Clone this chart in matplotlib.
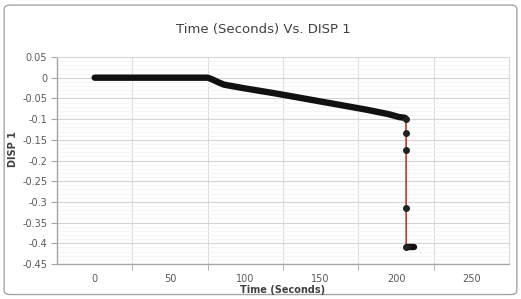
import numpy as np
import matplotlib
matplotlib.use("Agg")
import matplotlib.pyplot as plt
from matplotlib.patches import FancyBboxPatch

# readings taken off the chart (seconds, displacement)
time_flat = [0, 10, 20, 30, 40, 50, 60, 70, 75]
disp_flat = [0, 0, 0, 0, 0, 0, 0, 0, 0]

time_slope = [75, 78, 82, 86, 100, 120, 140, 160, 180, 195, 202, 206]
disp_slope = [0, -0.004, -0.011, -0.017, -0.026, -0.038, -0.051, -0.064, -0.077, -0.088, -0.095, -0.097]

time_drop = [206.5, 206.7, 206.7, 206.7, 206.8]
disp_drop = [-0.099, -0.133, -0.174, -0.314, -0.408]

time_end = [207, 208, 209, 210, 211, 212]
disp_end = [-0.408, -0.408, -0.408, -0.408, -0.408, -0.408]

label_ticks = [0, 50, 100, 150, 200, 250]
grid_ticks = [25, 75, 125, 175, 225]
y_ticks = [0.05, 0, -0.05, -0.1, -0.15, -0.2, -0.25, -0.3, -0.35, -0.4, -0.45]

fig = plt.figure(figsize=(5.21, 2.99), dpi=100)
fig.patch.set_facecolor("white")

# outer rounded frame
frame = FancyBboxPatch((0.008, 0.015), 0.984, 0.968, boxstyle="round,pad=0,rounding_size=0.012",
                       transform=fig.transFigure, facecolor="white", edgecolor="#a6a6a6",
                       linewidth=1.0, zorder=-10)
fig.patches.append(frame)

ax = fig.add_axes([0.1094, 0.117, 0.8676, 0.6924])
ax.set_zorder(1)

all_t = time_flat + time_slope[1:] + time_drop + time_end
all_d = disp_flat + disp_slope[1:] + disp_drop + disp_end
ax.plot(all_t, all_d, color="#c0392b", linewidth=1.2, zorder=3)

# dense markers look like one thick black stroke
dense_t = time_flat + time_slope[1:]
dense_d = disp_flat + disp_slope[1:]
ax.plot(dense_t, dense_d, color="#111111", linewidth=4.6, solid_capstyle="round",
        solid_joinstyle="round", zorder=4)
ax.plot(time_end, disp_end, color="#111111", linewidth=4.6, solid_capstyle="round", zorder=4)
ax.plot(time_drop, disp_drop, "o", color="#222222", markersize=4, zorder=5)

ax.set_xlim(-25, 275)
ax.set_ylim(-0.45, 0.05)

ax.set_xticks(label_ticks)
ax.set_xticks(grid_ticks, minor=True)
ax.set_xticklabels([str(v) for v in label_ticks])
ax.tick_params(axis="x", which="major", length=0, labelsize=7, labelcolor="#595959", pad=7)
ax.tick_params(axis="x", which="minor", length=4, color="#a6a6a6", direction="out")

ax.set_yticks(y_ticks)
ax.set_yticklabels(["0.05", "0", "-0.05", "-0.1", "-0.15", "-0.2", "-0.25", "-0.3", "-0.35", "-0.4", "-0.45"])
ax.set_yticks(np.arange(-0.45, 0.05, 0.01), minor=True)
ax.tick_params(axis="y", which="major", length=4, color="#a6a6a6", labelsize=7,
               labelcolor="#595959", pad=3)
ax.tick_params(axis="y", which="minor", length=0)

ax.grid(axis="y", which="major", color="#d4d4d4", linewidth=0.8)
ax.grid(axis="y", which="minor", color="#f4f4f4", linewidth=0.6)
ax.grid(axis="x", which="minor", color="#dcdcdc", linewidth=0.8)
ax.set_axisbelow(True)

for side in ["top", "right"]:
    ax.spines[side].set_color("#d9d9d9")
    ax.spines[side].set_linewidth(0.8)
for side in ["left", "bottom"]:
    ax.spines[side].set_color("#a6a6a6")
    ax.spines[side].set_linewidth(1.0)

fig.text(0.505, 0.9, "Time (Seconds) Vs. DISP 1", ha="center", va="center",
         fontsize=9.5, color="#404040")
ax.set_xlabel("Time (Seconds)", fontsize=7, fontweight="bold", color="#404040", labelpad=1)
fig.text(0.024, 0.5, "DISP 1", rotation=90, ha="center", va="center",
         fontsize=7, fontweight="bold", color="#404040")

fig.savefig("out.png", dpi=100)
